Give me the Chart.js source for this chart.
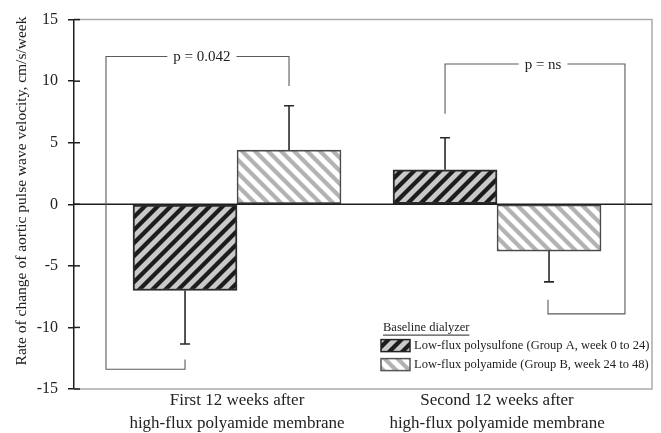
<!DOCTYPE html>
<html>
<head>
<meta charset="utf-8">
<script src="https://cdn.jsdelivr.net/npm/chart.js@4/dist/chart.umd.min.js"></script>
<style>
  html, body { margin: 0; padding: 0; background: #fff; }
  #wrap { width: 661px; height: 433px; }
</style>
</head>
<body>
<div id="wrap"><canvas id="c" width="661" height="433"></canvas></div>
<script>
// Category labels and their positions on the x axis
const CATEGORIES = [
  ['First 12 weeks after', 'high-flux polyamide membrane'],
  ['Second 12 weeks after', 'high-flux polyamide membrane']
];
const CATEGORY_POS = [1, 2];

// Series (rate of change of aortic PWV, cm/s/week) and their error bars
const SERIES_NAMES = [
  'Low-flux polysulfone (Group A, week 0 to 24)',
  'Low-flux polyamide (Group B, week 24 to 48)'
];
const GROUP_A = [-7.0, 2.8];
const GROUP_A_ERR = [4.35, 2.6];
const GROUP_B = [4.4, -3.8];
const GROUP_B_ERR = [3.6, 2.5];

const Y_TICKS = [-15, -10, -5, 0, 5, 10, 15];
const Y_TITLE = 'Rate of change of aortic pulse wave velocity, cm/s/week';
const LEGEND_TITLE = 'Baseline dialyzer';

// Significance brackets, in data units (x, y)
const BRACKET_LABELS = ['p = 0.042', 'p = ns'];
const BRACKET_PATHS = [
  [[0.8, -12.6], [0.8, -13.4], [0.496, -13.4], [0.496, 12.0], [1.2, 12.0], [1.2, 9.6]],
  [[1.8, 7.35], [1.8, 11.4], [2.492, 11.4], [2.492, -8.9], [2.196, -8.9], [2.196, -7.76]]
];
const BRACKET_LABEL_AT = [[0.865, 12.0], [2.177, 11.4]];

const SERIF = '"Liberation Serif", "Times New Roman", serif';

// diagonal hatch fill; the tile holds several stripes to keep seams out of view
function hatch(bg, fg, width, pitch, rising) {
  const n = 4, size = pitch * n;
  const c = document.createElement('canvas');
  c.width = size; c.height = size;
  const g = c.getContext('2d');
  g.fillStyle = bg;
  g.fillRect(0, 0, size, size);
  g.strokeStyle = fg;
  g.lineWidth = width;
  for (let k = -n - 1; k <= n + 1; k++) {
    g.beginPath();
    if (rising) {
      g.moveTo(k * pitch - pitch, size + pitch);
      g.lineTo(k * pitch + size + pitch, -pitch);
    } else {
      g.moveTo(k * pitch - pitch, -pitch);
      g.lineTo(k * pitch + size + pitch, size + pitch);
    }
    g.stroke();
  }
  return document.getElementById('c').getContext('2d').createPattern(c, 'repeat');
}

const patA = hatch('#c9c9c9', '#1c1c1c', 4.2, 13, true);
const patB = hatch('#ffffff', '#b3b3b3', 4.2, 13, false);

const ERRORS = [GROUP_A_ERR, GROUP_B_ERR];

const decorations = {
  id: 'decorations',
  beforeDatasetsDraw(chart) {
    const { ctx, chartArea: a } = chart;
    ctx.save();
    // light frame around plot area
    ctx.strokeStyle = '#ababab';
    ctx.lineWidth = 1.5;
    ctx.beginPath();
    ctx.moveTo(a.left, a.top);
    ctx.lineTo(a.right, a.top);
    ctx.lineTo(a.right, a.bottom);
    ctx.lineTo(a.left, a.bottom);
    ctx.stroke();
    ctx.restore();
  },
  afterDatasetsDraw(chart) {
    const { ctx, chartArea: a, scales } = chart;
    const xs = scales.x, ys = scales.y;
    ctx.save();

    // zero line
    const y0 = ys.getPixelForValue(0);
    ctx.strokeStyle = '#1e1e1e';
    ctx.lineWidth = 1.6;
    ctx.beginPath();
    ctx.moveTo(a.left, y0);
    ctx.lineTo(a.right, y0);
    ctx.stroke();

    // inner half of the y tick marks
    ctx.lineWidth = 1.5;
    ctx.strokeStyle = '#1e1e1e';
    Y_TICKS.forEach(v => {
      const py = ys.getPixelForValue(v);
      ctx.beginPath();
      ctx.moveTo(a.left, py);
      ctx.lineTo(a.left + 6, py);
      ctx.stroke();
    });

    // error bars (away from zero)
    chart.data.datasets.forEach((ds, di) => {
      const meta = chart.getDatasetMeta(di);
      meta.data.forEach((bar, i) => {
        const v = ds.data[i].y;
        const e = ERRORS[di][i];
        const end = v >= 0 ? v + e : v - e;
        const pEnd = ys.getPixelForValue(end);
        const pStart = ys.getPixelForValue(v);
        ctx.strokeStyle = '#2a2a2a';
        ctx.lineWidth = 1.6;
        ctx.beginPath();
        ctx.moveTo(bar.x, pStart);
        ctx.lineTo(bar.x, pEnd);
        ctx.moveTo(bar.x - 5, pEnd);
        ctx.lineTo(bar.x + 5, pEnd);
        ctx.stroke();
      });
    });

    // significance brackets
    BRACKET_PATHS.forEach((path, bi) => {
      ctx.strokeStyle = '#5a5a5a';
      ctx.lineWidth = 1.1;
      ctx.beginPath();
      path.forEach(([vx, vy], k) => {
        const px = xs.getPixelForValue(vx), py = ys.getPixelForValue(vy);
        if (k === 0) ctx.moveTo(px, py); else ctx.lineTo(px, py);
      });
      ctx.stroke();
      const [lx, ly] = BRACKET_LABEL_AT[bi];
      const px = xs.getPixelForValue(lx), py = ys.getPixelForValue(ly);
      ctx.font = '15px ' + SERIF;
      const w = ctx.measureText(BRACKET_LABELS[bi]).width;
      ctx.fillStyle = '#fff';
      ctx.fillRect(px - w / 2 - 6, py - 4, w + 12, 8);
      ctx.fillStyle = '#222';
      ctx.textAlign = 'center';
      ctx.textBaseline = 'middle';
      ctx.fillText(BRACKET_LABELS[bi], px, py + 1);
    });

    // y axis title
    ctx.save();
    ctx.translate(22, 191);
    ctx.rotate(-Math.PI / 2);
    ctx.font = '15.5px ' + SERIF;
    ctx.fillStyle = '#222';
    ctx.textAlign = 'center';
    ctx.textBaseline = 'middle';
    ctx.fillText(Y_TITLE, 0, 0);
    ctx.restore();

    // legend
    const lx0 = a.left + 307, ly0 = a.top + 308;
    ctx.font = '12.5px ' + SERIF;
    ctx.fillStyle = '#222';
    ctx.textAlign = 'left';
    ctx.textBaseline = 'middle';
    ctx.fillText(LEGEND_TITLE, lx0 + 2, ly0);
    const tw = ctx.measureText(LEGEND_TITLE).width;
    ctx.strokeStyle = '#222';
    ctx.lineWidth = 1;
    ctx.beginPath();
    ctx.moveTo(lx0 + 2, ly0 + 7.5);
    ctx.lineTo(lx0 + 2 + tw, ly0 + 7.5);
    ctx.stroke();
    const fills = [patA, patB];
    const borders = ['#222', '#555'];
    SERIES_NAMES.forEach((name, i) => {
      const sy = ly0 + 12 + i * 19;
      ctx.fillStyle = fills[i];
      ctx.fillRect(lx0, sy, 29, 12);
      ctx.strokeStyle = borders[i];
      ctx.lineWidth = 1.5;
      ctx.strokeRect(lx0, sy, 29, 12);
      ctx.fillStyle = '#222';
      ctx.fillText(name, lx0 + 33, sy + 6.5);
    });

    ctx.restore();
  }
};

new Chart(document.getElementById('c'), {
  type: 'bar',
  data: {
    datasets: [
      {
        label: SERIES_NAMES[0],
        data: CATEGORY_POS.map((x, i) => ({ x, y: GROUP_A[i] })),
        backgroundColor: patA,
        borderColor: '#2a2a2a',
        borderWidth: 2,
        borderSkipped: false,
        barThickness: 104
      },
      {
        label: SERIES_NAMES[1],
        data: CATEGORY_POS.map((x, i) => ({ x, y: GROUP_B[i] })),
        backgroundColor: patB,
        borderColor: '#4a4a4a',
        borderWidth: 1.6,
        borderSkipped: false,
        barThickness: 104
      }
    ]
  },
  options: {
    responsive: false,
    animation: false,
    layout: { padding: { top: 16, right: 9, left: 0, bottom: 0 } },
    plugins: { legend: { display: false }, tooltip: { enabled: false } },
    scales: {
      x: {
        type: 'linear',
        offset: false,
        bounds: 'data',
        min: 0.373,
        max: 2.596,
        afterBuildTicks: s => { s.ticks = CATEGORY_POS.map(v => ({ value: v })); },
        afterFit: s => { s.height = 44; },
        grid: { display: false, drawTicks: false, tickLength: 0, offset: false },
        border: { display: false },
        ticks: {
          autoSkip: false,
          maxRotation: 0,
          minRotation: 0,
          padding: 0,
          color: '#222',
          font: { family: SERIF, size: 17, lineHeight: 1.35 },
          callback: (v, i) => CATEGORIES[i]
        }
      },
      y: {
        min: -15,
        max: 15,
        afterBuildTicks: s => { s.ticks = Y_TICKS.map(v => ({ value: v })); },
        afterFit: s => { s.width = 74; },
        grid: { drawOnChartArea: false, drawTicks: true, tickLength: 6, color: '#1e1e1e', lineWidth: 1.5 },
        border: { display: true, color: '#1e1e1e', width: 1.5 },
        ticks: {
          padding: 10,
          color: '#222',
          font: { family: SERIF, size: 16 }
        }
      }
    }
  },
  plugins: [decorations]
});
</script>
</body>
</html>
